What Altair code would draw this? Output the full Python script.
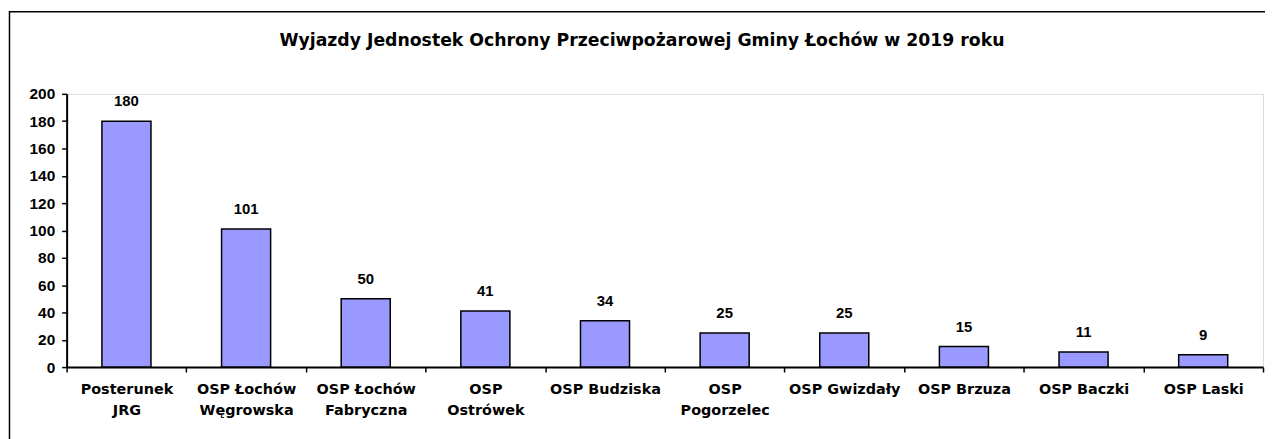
import altair as alt
import pandas as pd

categories = ["Posterunek|JRG", "OSP Łochów|Węgrowska", "OSP Łochów|Fabryczna", "OSP|Ostrówek",
              "OSP Budziska", "OSP|Pogorzelec", "OSP Gwizdały", "OSP Brzuza", "OSP Baczki", "OSP Laski"]
values = [180, 101, 50, 41, 34, 25, 25, 15, 11, 9]
y_ticks = list(range(0, 201, 20))
title_text = "Wyjazdy Jednostek Ochrony Przeciwpożarowej Gminy Łochów w 2019 roku"

df = pd.DataFrame({"cat": categories, "val": values})
FONT = "Liberation Sans"
XFONT = "DejaVu Sans"

x_enc = alt.X("cat:N", sort=None, title=None,
              scale=alt.Scale(paddingInner=0, paddingOuter=0),
              axis=alt.Axis(labelAngle=0, labelExpr="split(datum.label, '|')",
                            tickBand="extent", tickSize=5, tickColor="black", tickWidth=1.5,
                            domainColor="black", domainWidth=2,
                            labelFont=XFONT, labelFontSize=14.5, labelFontWeight="bold",
                            labelColor="black", labelPadding=11, labelLineHeight=21,
                            labelBaseline="top", labelOverlap=False))
y_enc = alt.Y("val:Q", title=None,
              scale=alt.Scale(domain=[0, 200], nice=False, zero=True),
              axis=alt.Axis(values=y_ticks, tickCount=11, grid=False, tickSize=5, tickColor="black",
                            tickWidth=1.5, domainColor="black", domainWidth=2, labelOverlap=False,
                            labelFont=FONT, labelFontSize=15.5, labelFontWeight="bold",
                            labelColor="black", labelPadding=7))

bars = alt.Chart(df).mark_bar(color="#9999FF", stroke="black", strokeWidth=1.5,
                              width=alt.RelativeBandSize(0.41)).encode(x=x_enc, y=y_enc)
labels = alt.Chart(df).mark_text(font=FONT, fontSize=15, fontWeight="bold", color="black",
                                 baseline="bottom", dy=-12).encode(
    x=x_enc, y=y_enc, text="val:Q")

frame = alt.Chart(pd.DataFrame({"k": [0]})).mark_rect(fill=None, stroke="black", strokeWidth=1.5).encode(
    x=alt.value(-57.5), x2=alt.value(1400), y=alt.value(-82.5), y2=alt.value(600))

title = alt.Chart(pd.DataFrame({"t": [title_text]})).mark_text(
    font=XFONT, fontSize=17.4, fontWeight="bold", color="black", align="center", baseline="middle").encode(
    text="t:N", x=alt.value(579), y=alt.value(-53))

chart = alt.layer(frame, bars, labels, title).properties(
    width=1204, height=275,
    autosize=alt.AutoSizeParams(type="none"),
    padding={"left": 59, "top": 85, "right": 2, "bottom": 71},
).configure_view(stroke="#a0a0a0", strokeWidth=1.5).configure(background="white")

chart.save("out.html", embed_options={"renderer": "svg", "actions": False})
